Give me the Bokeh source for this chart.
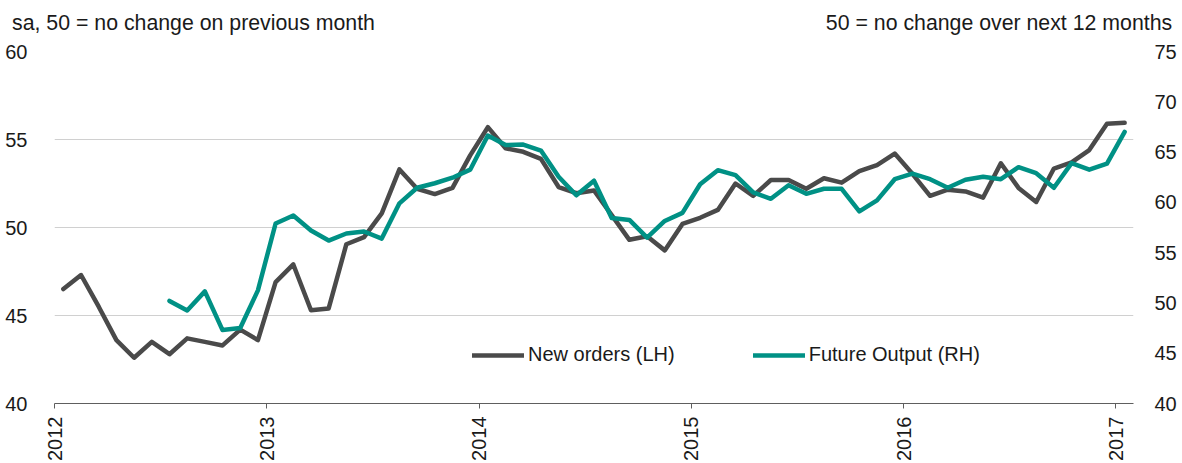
import numpy as np
from bokeh.plotting import figure
from bokeh.models import (Range1d, LinearAxis, FixedTicker, Legend, LegendItem)
from bokeh.embed import file_html
from bokeh.resources import INLINE

# ---- data -------------------------------------------------------------
year_labels = ["2012", "2013", "2014", "2015", "2016", "2017"]
# monthly, Jan 2012 .. Jan 2017
new_orders = [46.5, 47.3, 45.5, 43.6, 42.6, 43.5, 42.8, 43.7, 43.5, 43.3, 44.2, 43.6,
              46.9, 47.9, 45.3, 45.4, 49.05, 49.45, 50.8, 53.3, 52.2, 51.9, 52.25, 54.1,
              55.7, 54.5, 54.3, 53.9, 52.3, 51.95, 52.1, 50.7, 49.3, 49.5, 48.7, 50.2,
              50.55, 51.0, 52.5, 51.8, 52.7, 52.7, 52.2, 52.8, 52.55, 53.2, 53.55, 54.2,
              53.05, 51.8, 52.15, 52.05, 51.7, 53.65, 52.25, 51.45, 53.35, 53.7, 54.4, 55.9,
              55.95]
# monthly, Jul 2012 .. Jan 2017 (RH scale)
future_output = [50.2, 49.25, 51.15, 47.3, 47.5, 51.25,
                 57.9, 58.7, 57.2, 56.2, 56.9, 57.1, 56.4, 59.9, 61.45, 61.9, 62.45, 63.25,
                 66.65, 65.7, 65.75, 65.15, 62.55, 60.7, 62.15, 58.45, 58.25, 56.5, 58.15, 58.95,
                 61.8, 63.2, 62.7, 61.0, 60.35, 61.7, 60.85, 61.35, 61.35, 59.1, 60.2, 62.3,
                 62.85, 62.3, 61.45, 62.25, 62.55, 62.3, 63.5, 62.9, 61.45, 63.9, 63.25, 63.85,
                 67.0]
future_start = 6  # month index of first Future Output value (Jul 2012)

left_title = "sa, 50 = no change on previous month"
right_title = "50 = no change over next 12 months"
series_names = ["New orders (LH)", "Future Output (RH)"]

# ---- build ------------------------------------------------------------
FONT = "Liberation Sans"
GRAY = "#4a4a4a"
TEAL = "#009185"
TXT = "#1a1a1a"

FRAME_W = 1079  # 54 .. 1133

x_no = [i + 0.5 for i in range(len(new_orders))]
x_fo = [future_start + i + 0.5 for i in range(len(future_output))]

p = figure(width=1182, height=463, output_backend="svg", toolbar_location=None,
           x_range=Range1d(0, 61), y_range=Range1d(40, 60),
           min_border_left=54, min_border_right=49, min_border_top=51,
           min_border_bottom=60)
p.outline_line_color = None
p.background_fill_color = "white"
p.border_fill_color = "white"
p.extra_y_ranges = {"rh": Range1d(40, 75)}
p.extra_x_ranges = {"ttl": Range1d(0, FRAME_W)}

# x axis
p.xaxis.ticker = FixedTicker(ticks=[0, 12, 24, 36, 48, 60])
p.xaxis.major_label_overrides = {12 * k: lab for k, lab in enumerate(year_labels)}
p.xaxis.major_label_orientation = np.pi / 2
p.xaxis.minor_tick_line_color = None
p.xaxis.major_tick_in = 0
p.xaxis.major_tick_out = 5
p.xaxis.major_label_standoff = 8
p.xaxis.axis_line_color = "#5e5e5e"
p.xaxis.major_tick_line_color = "#5e5e5e"
p.xaxis.major_label_text_font = FONT
p.xaxis.major_label_text_font_size = "20px"
p.xaxis.major_label_text_color = TXT

# left axis
p.yaxis.ticker = FixedTicker(ticks=[40, 45, 50, 55, 60])
p.yaxis.axis_line_color = None
p.yaxis.major_tick_line_color = None
p.yaxis.minor_tick_line_color = None
p.yaxis.major_label_standoff = 21
p.yaxis.major_label_text_font = FONT
p.yaxis.major_label_text_font_size = "20px"
p.yaxis.major_label_text_color = TXT

# right axis
rax = LinearAxis(y_range_name="rh", ticker=FixedTicker(ticks=[40, 45, 50, 55, 60, 65, 70, 75]))
rax.axis_line_color = None
rax.major_tick_line_color = None
rax.minor_tick_line_color = None
rax.major_label_standoff = 15
rax.major_label_text_font = FONT
rax.major_label_text_font_size = "20px"
rax.major_label_text_color = TXT
p.add_layout(rax, "right")

# header texts, carried by an unlined axis above the frame
lt_center = (11 + 375) / 2 - 54
rt_center = (825 + 1172) / 2 - 54
tax = LinearAxis(x_range_name="ttl", ticker=FixedTicker(ticks=[lt_center, rt_center]))
tax.major_label_overrides = {lt_center: left_title, rt_center: right_title}
tax.axis_line_color = None
tax.major_tick_line_color = None
tax.minor_tick_line_color = None
tax.major_tick_in = 0
tax.major_tick_out = 0
tax.major_label_standoff = 17
tax.major_label_text_font = FONT
tax.major_label_text_font_size = "21.3px"
tax.major_label_text_color = TXT
p.add_layout(tax, "above")

# grid
p.xgrid.grid_line_color = None
p.ygrid.grid_line_color = "#d0d0d0"
p.ygrid.grid_line_width = 1
p.ygrid.ticker = FixedTicker(ticks=[45, 50, 55, 60])

r1 = p.line(x_no, new_orders, line_color=GRAY, line_width=4.5, line_join="round",
            line_cap="round")
r2 = p.line(x_fo, future_output, line_color=TEAL, line_width=4.5, line_join="round",
            line_cap="round", y_range_name="rh")

legend = Legend(items=[LegendItem(label=series_names[0], renderers=[r1]),
                       LegendItem(label=series_names[1], renderers=[r2])],
                orientation="horizontal", location=(418, 37),
                glyph_width=52, glyph_height=20, label_height=20,
                label_standoff=4, spacing=78, padding=0, margin=0,
                border_line_color=None, background_fill_alpha=0,
                label_text_font=FONT, label_text_font_size="20px",
                label_text_color=TXT)
p.add_layout(legend, "center")

open("out.html", "w").write(file_html(p, INLINE))
